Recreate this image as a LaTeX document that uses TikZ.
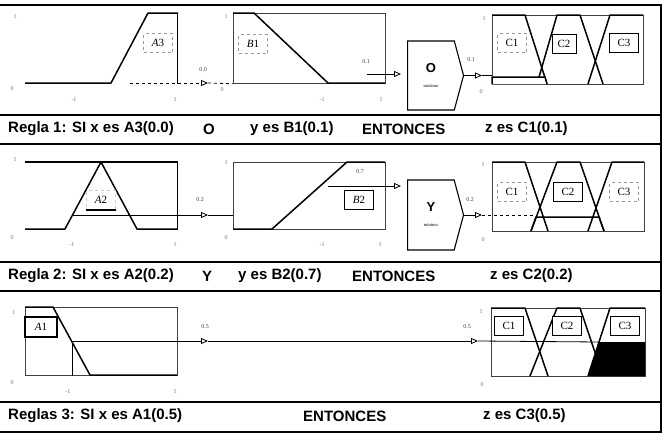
\documentclass[tikz,border=0pt]{standalone}
\usepackage{fontspec}
\setmainfont{Liberation Serif}
\setsansfont{Liberation Sans}
\usetikzlibrary{positioning, arrows.meta, shapes.symbols, calc}

\begin{document}
\begin{tikzpicture}[x=1pt, y=-1pt,
  panel/.style={draw=black!75, line width=0.7pt, minimum width=152pt, minimum height=70pt,
                inner sep=0pt, anchor=north west},
  faint/.style={draw=black!30, dashed},
  mf/.style={line width=1.5pt, line join=round},
  tag/.style={draw, fill=white, line width=0.8pt, font=\fontsize{11}{11}\selectfont,
              minimum width=29pt, minimum height=19pt, inner sep=0pt},
  tagd/.style={tag, draw=black!40, dashed},
  tick/.style={font=\fontsize{6}{6}\selectfont, text=black!55, inner sep=0.5pt},
  val/.style={font=\fontsize{6}{6}\selectfont, text=black!75, inner sep=0.5pt},
  captxt/.style={font=\sffamily\bfseries\fontsize{15}{17}\selectfont, anchor=west, inner sep=0pt},
  op/.style={draw, line width=1.1pt, signal, signal to=east, signal pointer angle=150,
             minimum width=56pt, minimum height=69pt, inner sep=0pt, align=center, anchor=west},
  flow/.style={line width=0.8pt, -{Triangle[open, length=7pt, width=6pt]}},
  lvl/.style={line width=0.8pt},
  sep/.style={line width=1.3pt},
]
\useasboundingbox (0,0) rectangle (665,442);

% --- Frame and row separators ---
\draw[sep] (0,5) -- (661,5) -- (661,432) -- (0,432);
\foreach \y in {115,144,262,291,402}
  \draw[sep] (0,\y) -- (661,\y);

% --- Row 1: A3 O B1 -> C1 ---
\node[panel, draw=none] (pA1) at (25,13) {};
\node[panel] (pB1) at (233,13) {};
\node[panel, minimum width=151pt, minimum height=69pt] (pC1) at (492,15) {};
\node[op] (opO) at (407,75.5) {{\sffamily\bfseries\fontsize{13}{13}\selectfont O}\\[3pt]{\fontsize{4.5}{5}\selectfont máximo}};

\draw[lvl] (pA1.north east) -- (pA1.south east);
\draw[mf] (25,83) -- (111,83) -- (148,13) -- (178,13);
\draw[mf] (233,13) -- (254,13) -- (328,83) -- (385,83);
\draw[mf] (492,15) -- (525,15) -- (547,84);
\draw[mf] (537,84) -- (557,15) -- (580,15) -- (603,84);
\draw[mf] (588,84) -- (610,15) -- (643,15);
\draw[mf, fill=white] (492,84) -- (492,77) -- (545,77) -- (547,84);

\node[tagd] (tA3) at (158,43) {\textit{A}3};
\node[tagd] (tB1) at (253,44) {\textit{B}1};
\node[tagd] (tC11) at (512,43) {C1};
\node[tag, minimum width=24pt] (tC12) at (564,44) {C2};
\node[tag, line width=1.3pt] (tC13) at (624,43) {C3};

\coordinate (a3v) at (130,83);
\coordinate (a3t) at (208,83);
\coordinate (b1v) at (367,74);
\coordinate (o1t) at (482,75.5);
\draw[flow, dashed] (a3v) -- (a3t);
\draw[lvl, dashed] (a3t) -- (pB1.south west);
\draw[flow, shorten >=6pt] (b1v) -- (b1v -| opO.west);
\draw[flow] (opO.east) -- (o1t);
\draw[lvl] (o1t) -- (o1t -| pC1.west);

\node[tick] at (15,17) {1};  \node[tick] at (12,89) {0};
\node[tick] at (74,100) {-1}; \node[tick] at (175,100) {1};
\node[tick] at (226,17) {1}; \node[tick] at (222,90) {0};
\node[tick] at (322,100) {-1}; \node[tick] at (381,100) {1};
\node[tick] at (484,19) {1}; \node[tick] at (481,92) {0};
\node[val] at (203,70) {0.0};
\node[val] at (366,62) {0.1};
\node[val] at (471,60) {0.1};

\node[captxt] (r1a) at (8,129) {Regla 1: SI x es A3(0.0)};
\node[captxt] (r1b) at (203,129) {O};
\node[captxt] (r1c) at (250,129) {y es B1(0.1)};
\node[captxt] (r1d) at (362,129) {ENTONCES};
\node[captxt] (r1e) at (485,129) {z es C1(0.1)};

% --- Row 2: A2 Y B2 -> C2 ---
\node[panel, draw=none, minimum height=67pt] (pA2) at (25,162) {};
\node[panel, minimum height=67pt] (pB2) at (233,162) {};
\node[panel, minimum height=69pt] (pC2) at (492,162) {};
\node[op, minimum height=70pt] (opY) at (407,215) {{\sffamily\bfseries\fontsize{13}{13}\selectfont Y}\\[3pt]{\fontsize{4.5}{5}\selectfont mínimo}};

\draw[mf] (pA2.north west) -- (pA2.north east);
\draw[lvl] (pA2.north east) -- (pA2.south east);
\draw[mf] (25,229) -- (65,229) -- (101,162) -- (137,229) -- (177,229);
\draw[mf] (233,229) -- (272,229) -- (347,162) -- (385,162);
\draw[mf] (492,162) -- (525,162) -- (548,231);
\draw[mf] (531,231) -- (557,162) -- (580,162) -- (604,231);
\draw[mf] (588,231) -- (612,162) -- (644,162);
\draw[mf] (531,231) -- (536,217) -- (599,217) -- (604,231);

\node[tagd, draw=black!20] (tA2) at (101,200) {\textit{A}2};
\draw[mf] (tA2.south west) -- (tA2.south east);
\node[tag] (tB2) at (359,200) {\textit{B}2};
\node[tagd] (tC21) at (512,192) {C1};
\node[tag] (tC22) at (568,192) {C2};
\node[tagd] (tC23) at (624,192) {C3};

\coordinate (a2v) at (72,215);
\coordinate (a2t) at (208,215);
\coordinate (b2v) at (328,186);
\coordinate (y2t) at (482,215);
\coordinate (c2cut) at (537,215);
\draw[flow] (a2v) -- (a2t);
\draw[lvl] (a2t) -- (a2t -| pB2.west);
\draw[flow, shorten >=6pt] (b2v) -- (b2v -| opY.west);
\draw[flow] (opY.east) -- (y2t);
\draw[lvl, dashed] (y2t) -- (c2cut);

\node[tick] at (15,160) {1};  \node[tick] at (12,238) {0};
\node[tick] at (72,245) {-1}; \node[tick] at (175,245) {1};
\node[tick] at (226,163) {1}; \node[tick] at (226,238) {0};
\node[tick] at (322,245) {-1}; \node[tick] at (380,245) {1};
\node[tick] at (483,165) {1}; \node[tick] at (483,240) {0};
\node[val] at (200,200) {0.2};
\node[val] at (360,172) {0.7};
\node[val] at (470,200) {0.2};

\node[captxt] (r2a) at (8,276) {Regla 2: SI x es A2(0.2)};
\node[captxt] (r2b) at (202,276) {Y};
\node[captxt] (r2c) at (238,276) {y es B2(0.7)};
\node[captxt] (r2d) at (352,276) {ENTONCES};
\node[captxt] (r2e) at (490,276) {z es C2(0.2)};

% --- Row 3: A1 -> C3 ---
\node[panel, minimum height=68pt] (pA3) at (25,307) {};
\node[panel, minimum width=154pt, minimum height=68pt] (pC3) at (491,308) {};

\draw[mf] (25,307) -- (53,307) -- (90,375) -- (177,375);
\draw[mf] (491,308) -- (525,308) -- (548,376);
\draw[mf] (530,376) -- (557,308) -- (580,308) -- (603,376);
\draw[mf] (588,376) -- (610,308) -- (645,308);
\fill (588,376) -- (599,342) -- (645,342) -- (645,376) -- cycle;

\node[tag, minimum width=32pt, minimum height=20pt, line width=1.1pt] (tA1) at (41,327) {\textit{A}1};
\node[tag] (tC31) at (509,326) {C1};
\node[tag] (tC32) at (567,326) {C2};
\node[tag] (tC33) at (625,326) {C3};

\coordinate (a1v) at (72,341);
\coordinate (a1t) at (208,341);
\coordinate (c3t) at (478,341);
\coordinate (c3cut) at (599,342);
\draw[lvl] (a1v) -- (a1v |- pA3.south);
\draw[flow] (a1v) -- (a1t);
\draw[flow] (a1t) -- (c3t);
\draw[lvl] (c3t) -- (c3cut);

\node[tick] at (14,313) {1};  \node[tick] at (12,383) {0};
\node[tick] at (68,392) {-1}; \node[tick] at (175,392) {1};
\node[tick] at (481,312) {1}; \node[tick] at (482,385) {0};
\node[val] at (205,327) {0.5};
\node[val] at (467,327) {0.5};

\node[captxt] (r3a) at (8,416) {Reglas 3: SI x es A1(0.5)};
\node[captxt] (r3d) at (303,416) {ENTONCES};
\node[captxt] (r3e) at (483,416) {z es C3(0.5)};

\end{tikzpicture}
\end{document}
